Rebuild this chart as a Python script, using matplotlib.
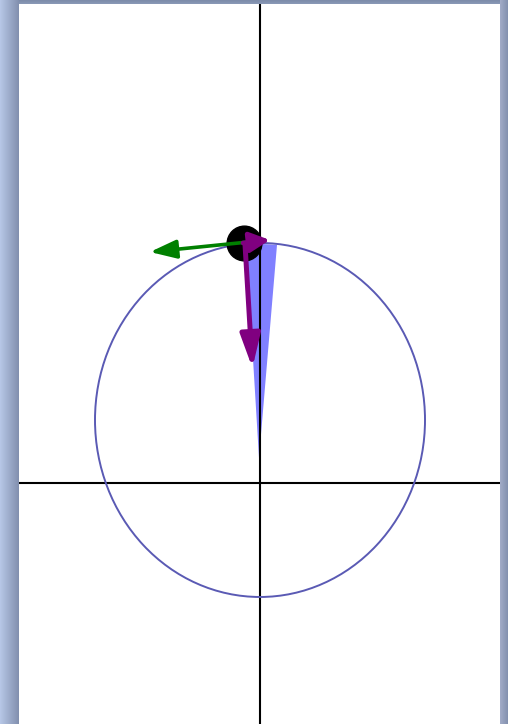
import numpy as np
import matplotlib
matplotlib.use("Agg")
import matplotlib.pyplot as plt
from matplotlib.patches import Ellipse, Polygon

# ---- data (in axis units; circle radius = 1) ----
circle_center = (0.0, 0.356)
circle_radius = 1.0
bob = (-0.097, 1.358)
velocity_start = (-0.012, 1.367)
velocity_end = (-0.667, 1.305)
gravity_start = (-0.091, 1.350)
gravity_end = (-0.046, 0.650)
tangent_start = (-0.103, 1.356)
tangent_end = (0.060, 1.373)
wedge_x = [-0.006, -0.085, 0.103]
wedge_y = [0.141, 1.356, 1.345]
xlim = (-1.4606, 1.4545)
ylim = (-1.3616, 2.706)

W, H = 508, 724
fig = plt.figure(figsize=(W / 100, H / 100), dpi=100)

# background gradient frame
bg = fig.add_axes([0, 0, 1, 1], zorder=-10)
xx = np.arange(W)[None, :].repeat(H, 0).astype(float)
yy = np.arange(H)[:, None].repeat(W, 1).astype(float)
light = np.array([182, 198, 230]) / 255.0
dark = np.array([128, 142, 172]) / 255.0
img = np.ones((H, W, 3)) * dark
tl = np.clip(xx / 19.0, 0, 1)[..., None]
left = light * (1 - tl) + dark * tl
img = np.where((xx < 19)[..., None], left, img)
tr = np.clip((xx - 500) / 8.0, 0, 1)[..., None]
right = (np.array([160, 170, 198]) / 255.0) * (1 - tr) + dark * tr
img = np.where((xx >= 500)[..., None], right, img)
tt = np.clip(yy / 4.0, 0, 1)[..., None]
top = (np.array([125, 140, 170]) / 255.0) * (1 - tt) + (np.array([140, 155, 185]) / 255.0) * tt
img = np.where(((yy < 4) & (xx >= 19) & (xx < 500))[..., None], top, img)
bg.imshow(img, aspect="auto", extent=(0, W, H, 0), interpolation="bilinear")
bg.axis("off")

ax = fig.add_axes([19 / W, 0, 481 / W, (H - 4) / H])
ax.set_facecolor("white")
ax.set_xlim(*xlim)
ax.set_ylim(*ylim)
for s in ax.spines.values():
    s.set_visible(False)
ax.set_xticks([])
ax.set_yticks([])

ax.add_patch(Polygon(list(zip(wedge_x, wedge_y)), closed=True,
                     facecolor="#8080ff", edgecolor="none", zorder=1))
ax.axhline(0, color="black", lw=1.5, zorder=2)
ax.axvline(0, color="black", lw=1.5, zorder=2)
ax.add_patch(Ellipse(circle_center, 2 * circle_radius, 2 * circle_radius,
                     fill=False, edgecolor="#5a5ab4", lw=1.4, zorder=3))
ax.plot([bob[0]], [bob[1]], "o", color="black", markersize=25, zorder=4)

ax.annotate("", xy=velocity_end, xytext=velocity_start,
            arrowprops=dict(arrowstyle="-|>,head_length=0.8,head_width=0.28",
                            mutation_scale=20, color="green", lw=2.6,
                            shrinkA=0, shrinkB=0), zorder=5)
ax.annotate("", xy=gravity_end, xytext=gravity_start,
            arrowprops=dict(arrowstyle="-|>,head_length=1.0,head_width=0.3",
                            mutation_scale=20, color="purple", lw=3.6,
                            shrinkA=0, shrinkB=0), zorder=6)
ax.annotate("", xy=tangent_end, xytext=tangent_start,
            arrowprops=dict(arrowstyle="-|>,head_length=0.6,head_width=0.3",
                            mutation_scale=20, color="purple", lw=3.4,
                            shrinkA=0, shrinkB=0), zorder=6)

fig.savefig("out.png", dpi=100)
